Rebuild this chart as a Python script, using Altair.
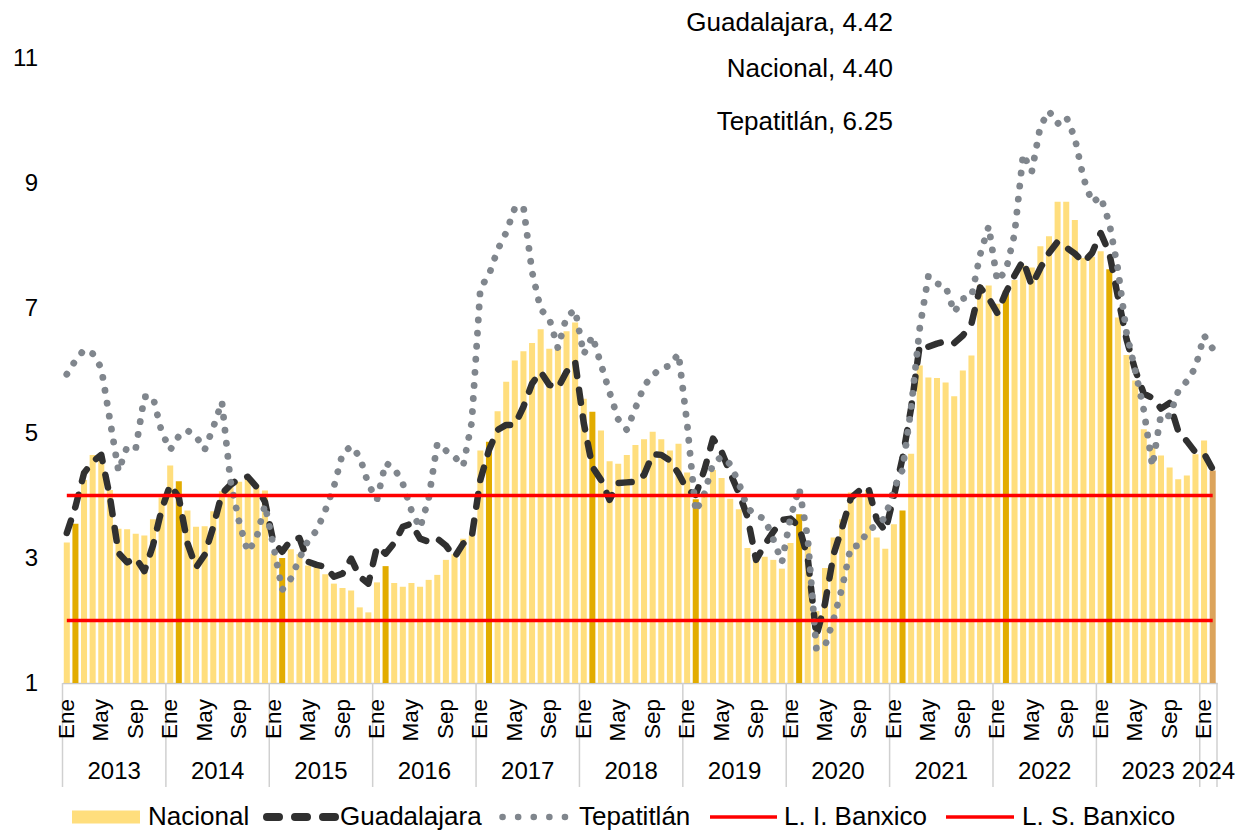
import altair as alt
import pandas as pd

FONT = "Liberation Sans"

years = [2013, 2014, 2015, 2016, 2017, 2018, 2019, 2020, 2021, 2022, 2023, 2024]
month_names = ["Ene", "Feb", "Mar", "Abr", "May", "Jun", "Jul", "Ago", "Sep", "Oct", "Nov", "Dic"]
shown_months = ["Ene", "May", "Sep"]

nacional = [
    3.25, 3.55, 4.25, 4.65, 4.63, 4.09, 3.47, 3.46, 3.39, 3.36, 3.62, 3.97,
    4.48, 4.23, 3.76, 3.50, 3.51, 3.75, 4.07, 4.15, 4.22, 4.30, 4.17, 4.08,
    3.07, 3.00, 3.14, 3.06, 2.88, 2.87, 2.74, 2.59, 2.52, 2.48, 2.21, 2.13,
    2.61, 2.87, 2.60, 2.54, 2.60, 2.54, 2.65, 2.73, 2.97, 3.06, 3.31, 3.36,
    4.72, 4.86, 5.35, 5.82, 6.16, 6.31, 6.44, 6.66, 6.35, 6.37, 6.63, 6.77,
    5.55, 5.34, 5.04, 4.55, 4.51, 4.65, 4.81, 4.90, 5.02, 4.90, 4.72, 4.83,
    4.37, 3.94, 4.00, 4.41, 4.28, 3.95, 3.78, 3.16, 3.00, 3.02, 2.97, 2.83,
    3.24, 3.70, 3.25, 2.15, 2.84, 3.33, 3.62, 4.05, 4.01, 4.09, 3.33, 3.15,
    3.54, 3.76, 4.67, 6.08, 5.89, 5.88, 5.81, 5.59, 6.00, 6.24, 7.37, 7.36,
    7.07, 7.28, 7.45, 7.68, 7.65, 7.99, 8.15, 8.70, 8.70, 8.41, 7.80, 7.82,
    7.91, 7.62, 6.85, 6.25, 5.84, 5.06, 4.79, 4.64, 4.45, 4.26, 4.32, 4.66,
    4.88, 4.40,
]

guadalajara = [
    3.40, 3.82, 4.36, 4.54, 4.65, 3.98, 3.08, 2.93, 3.00, 2.79, 3.20, 3.77,
    4.17, 3.97, 3.24, 2.85, 3.05, 3.50, 4.03, 4.17, 4.27, 4.30, 4.14, 3.90,
    3.24, 3.10, 3.29, 3.32, 2.94, 2.89, 2.86, 2.70, 2.75, 2.99, 2.70, 2.59,
    3.18, 3.07, 3.24, 3.50, 3.55, 3.31, 3.26, 3.31, 3.20, 3.01, 3.23, 3.34,
    4.25, 4.73, 5.05, 5.13, 5.13, 5.42, 5.79, 5.98, 5.77, 5.72, 5.98, 6.14,
    5.16, 4.46, 4.25, 3.93, 4.20, 4.21, 4.22, 4.33, 4.66, 4.65, 4.56, 4.35,
    4.09, 4.01, 4.41, 4.91, 4.70, 4.36, 4.04, 3.66, 2.97, 3.21, 3.42, 3.61,
    3.63, 3.50, 3.00, 1.75, 2.27, 3.06, 3.49, 3.96, 4.08, 4.14, 3.62, 3.43,
    3.99, 4.60, 5.40, 6.41, 6.38, 6.43, 6.47, 6.44, 6.56, 6.75, 7.33, 7.16,
    6.92, 7.25, 7.52, 7.76, 7.36, 7.64, 7.88, 8.06, 7.97, 7.87, 7.73, 7.88,
    8.20, 7.88, 7.18, 6.50, 6.01, 5.63, 5.56, 5.39, 5.48, 5.03, 4.87, 4.69,
    4.67, 4.42,
]

tepatitlan = [
    5.94, 6.16, 6.33, 6.27, 6.04, 5.21, 4.39, 4.78, 4.75, 5.58, 5.58, 5.02,
    4.73, 4.95, 5.04, 4.95, 4.73, 5.09, 5.50, 4.23, 3.58, 3.10, 3.31, 3.85,
    3.18, 2.49, 2.67, 2.99, 3.28, 3.44, 3.76, 4.14, 4.67, 4.79, 4.62, 4.18,
    3.93, 4.52, 4.44, 4.19, 3.76, 3.48, 3.95, 4.83, 4.72, 4.62, 4.47, 5.17,
    7.32, 7.53, 7.93, 8.21, 8.60, 8.62, 7.58, 6.98, 6.83, 6.36, 6.86, 6.97,
    6.26, 6.55, 6.10, 5.65, 5.22, 5.05, 5.40, 5.75, 5.93, 6.03, 6.08, 6.27,
    5.15, 3.74, 4.03, 4.51, 4.62, 4.50, 4.20, 3.80, 3.68, 3.63, 3.30, 2.93,
    3.65, 4.12, 3.32, 1.55, 1.59, 2.02, 2.53, 3.18, 3.20, 3.45, 3.52, 3.65,
    4.11, 4.41, 5.40, 6.68, 7.51, 7.39, 7.35, 6.93, 7.15, 7.18, 7.85, 8.31,
    7.43, 7.60, 8.18, 9.46, 9.18, 9.91, 10.15, 9.95, 10.06, 9.72, 9.08, 8.69,
    8.78, 8.36, 7.62, 6.60, 6.01, 5.37, 4.47, 5.30, 5.27, 5.67, 5.83, 6.05,
    6.56, 6.35,
]

li_banxico = 2.0
ls_banxico = 4.0

annotations = ["Guadalajara, 4.42", "Nacional, 4.40", "Tepatitlán, 6.25"]
legend_labels = ["Nacional", "Guadalajara", "Tepatitlán", "L. I. Banxico", "L. S. Banxico"]
y_ticks = [1, 3, 5, 7, 9, 11]

LIGHT = "#FFDE7D"
DARK = "#E2AC00"
TAN = "#DCA45C"
BLACK = "#303030"
GRAY = "#80868D"
RED = "#FF0000"

N = len(nacional)

rows = []
for i in range(N):
    m = i % 12
    if i == N - 1:
        tipo = "last"
    elif m == 1:
        tipo = "feb"
    else:
        tipo = "norm"
    rows.append({
        "i": i, "xs": i + 0.15, "xe": i + 0.85, "xc": i + 0.5,
        "nac": nacional[i], "gdl": guadalajara[i], "tep": tepatitlan[i],
        "tipo": tipo, "mes": month_names[m],
    })
df = pd.DataFrame(rows)

df_months = df[df["mes"].isin(shown_months)][["xc", "mes"]]

year_rows = []
for k, yr in enumerate(years):
    start = 12 * k
    end = min(12 * (k + 1), N)
    year_rows.append({"yc": (start + end) / 2, "year": str(yr)})
df_years = pd.DataFrame(year_rows)

bounds = [12 * k for k in range(len(years))] + [N]
df_bounds = pd.DataFrame({"xb": bounds})

df_lim = pd.DataFrame({"x0": [0.5, 0.5], "x1": [N - 0.5, N - 0.5], "v": [li_banxico, ls_banxico]})

one = pd.DataFrame({"k": [0]})

xscale = alt.Scale(domain=[0, N], nice=False, zero=False)
yscale = alt.Scale(domain=[1, 11], nice=False, zero=False)
xaxis = alt.Axis(labels=False, ticks=False, grid=False, domain=True,
                 domainColor="#C8C8C8", domainWidth=1.5, title=None)
yaxis = alt.Axis(values=y_ticks, grid=False, domain=False, ticks=False,
                 labelFontSize=24, labelPadding=25, labelColor="#000000",
                 labelFont=FONT, title=None)

bars = alt.Chart(df).mark_bar().encode(
    x=alt.X("xs:Q", scale=xscale, axis=xaxis),
    x2="xe:Q",
    y=alt.Y("nac:Q", scale=yscale, axis=yaxis),
    y2=alt.datum(1),
    color=alt.Color("tipo:N", scale=alt.Scale(domain=["norm", "feb", "last"],
                                              range=[LIGHT, DARK, TAN]), legend=None),
)

gdl_line = alt.Chart(df).mark_line(
    color=BLACK, strokeWidth=6.5, strokeDash=[13, 14], strokeCap="round", strokeJoin="round"
).encode(
    x=alt.X("xc:Q", scale=xscale, axis=xaxis),
    y=alt.Y("gdl:Q", scale=yscale, axis=yaxis),
)

tep_line = alt.Chart(df).mark_line(
    color=GRAY, strokeWidth=6.8, strokeDash=[0.1, 13], strokeCap="round", strokeJoin="round"
).encode(
    x=alt.X("xc:Q", scale=xscale, axis=xaxis),
    y=alt.Y("tep:Q", scale=yscale, axis=yaxis),
)

limits = alt.Chart(df_lim).mark_rule(color=RED, strokeWidth=3.5).encode(
    x=alt.X("x0:Q", scale=xscale, axis=xaxis),
    x2="x1:Q",
    y=alt.Y("v:Q", scale=yscale, axis=yaxis),
)

bound_rules = alt.Chart(df_bounds).mark_rule(color="#D0D0D0", strokeWidth=1.5).encode(
    x=alt.X("xb:Q", scale=xscale, axis=xaxis),
    y=alt.value(625),
    y2=alt.value(729),
)

month_text = alt.Chart(df_months).mark_text(
    angle=270, align="right", baseline="middle", fontSize=22.5, font=FONT, color="#000000"
).encode(
    x=alt.X("xc:Q", scale=xscale, axis=xaxis),
    y=alt.value(641),
    text="mes:N",
)

year_text = alt.Chart(df_years).mark_text(
    align="center", baseline="middle", fontSize=24, font=FONT, color="#000000"
).encode(
    x=alt.X("yc:Q", scale=xscale, axis=xaxis),
    y=alt.value(714),
    text="year:N",
)

def ann(label, ypix):
    return alt.Chart(one).mark_text(
        align="right", baseline="middle", fontSize=26, font=FONT, color="#000000", text=label
    ).encode(x=alt.value(830.5), y=alt.value(ypix))

ann_layers = [ann(annotations[0], -35), ann(annotations[1], 11), ann(annotations[2], 64)]

LY = 759

def leg_text(label, xpix):
    return alt.Chart(one).mark_text(
        align="left", baseline="middle", fontSize=26, font=FONT, color="#000000", text=label
    ).encode(x=alt.value(xpix), y=alt.value(LY))

leg_nac = alt.Chart(one).mark_rect(color=LIGHT).encode(
    x=alt.value(9.5), x2=alt.value(77.5), y=alt.value(LY - 6.5), y2=alt.value(LY + 6.5)
)
leg_gdl = alt.Chart(one).mark_rule(
    color=BLACK, strokeWidth=8, strokeDash=[12, 16], strokeCap="round"
).encode(x=alt.value(204.5), x2=alt.value(273.5), y=alt.value(LY))
leg_tep = alt.Chart(one).mark_rule(
    color=GRAY, strokeWidth=6.5, strokeDash=[0.1, 15.5], strokeCap="round"
).encode(x=alt.value(440), x2=alt.value(504), y=alt.value(LY))
leg_li = alt.Chart(one).mark_rule(color=RED, strokeWidth=3.5).encode(
    x=alt.value(647.5), x2=alt.value(714.5), y=alt.value(LY)
)
leg_ls = alt.Chart(one).mark_rule(color=RED, strokeWidth=3.5).encode(
    x=alt.value(883.5), x2=alt.value(951.5), y=alt.value(LY)
)

legend_layers = [
    leg_nac, leg_text(legend_labels[0], 85.5),
    leg_gdl, leg_text(legend_labels[1], 277.5),
    leg_tep, leg_text(legend_labels[2], 516.5),
    leg_li, leg_text(legend_labels[3], 721.5),
    leg_ls, leg_text(legend_labels[4], 959.5),
]

chart = alt.layer(
    bars, gdl_line, tep_line, limits, bound_rules, month_text, year_text,
    *ann_layers, *legend_layers
).properties(
    width=1154.5,
    height=625,
    padding={"left": 54.5, "top": 50, "right": 20, "bottom": 150},
    autosize=alt.AutoSizeParams(type="none"),
).configure(
    font=FONT,
    view=alt.ViewConfig(stroke=None, strokeWidth=0),
)

chart.save("out.html", embed_options={"renderer": "svg", "actions": False})
